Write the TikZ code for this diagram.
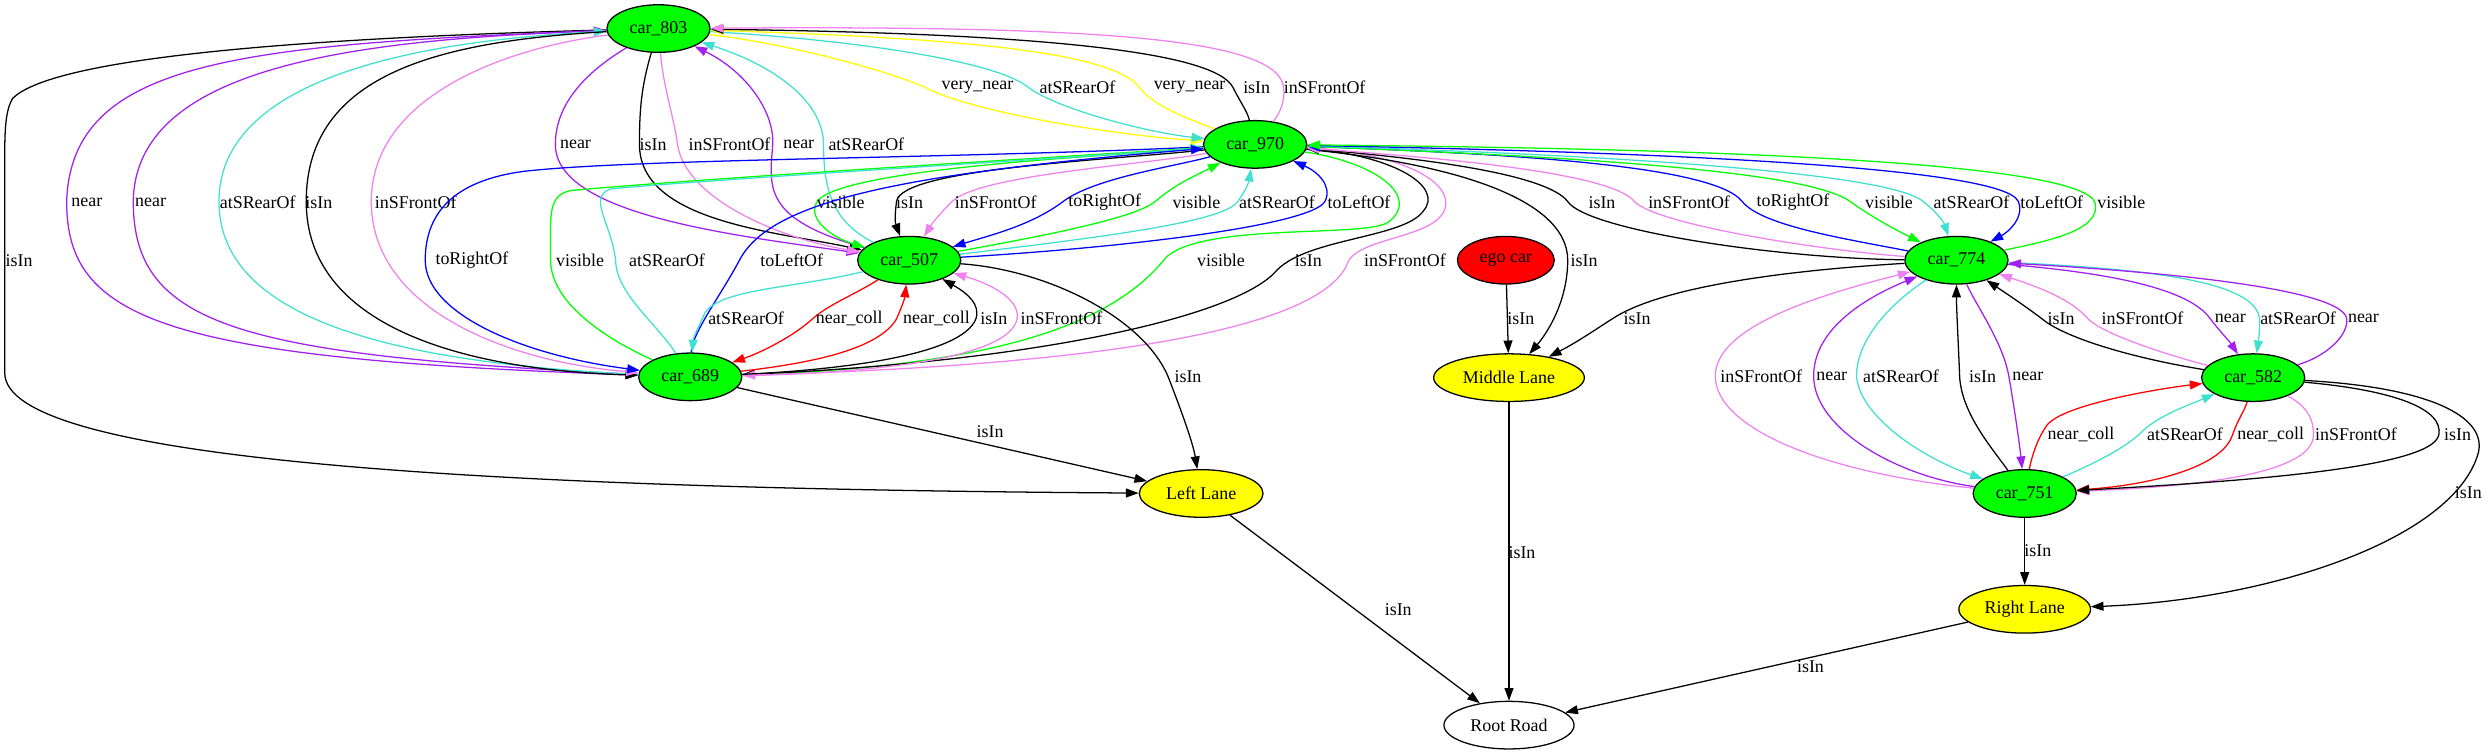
\documentclass[tikz,border=0pt]{standalone}
\usepackage{fontspec}
\setmainfont{Liberation Serif}
\usetikzlibrary{shapes.geometric, arrows.meta}

\definecolor{carc}{HTML}{00FF00}
\definecolor{egoc}{HTML}{FF0000}
\definecolor{lanec}{HTML}{FFFF00}
\definecolor{nearc}{HTML}{A020F0}
\definecolor{frontc}{HTML}{EE82EE}
\definecolor{rearc}{HTML}{40E0D0}
\definecolor{sidec}{HTML}{0000FF}
\definecolor{visc}{HTML}{00FF00}
\definecolor{collc}{HTML}{FF0000}
\definecolor{vnearc}{HTML}{FFFF00}

\begin{document}
\begin{tikzpicture}[
    x=1pt, y=-1pt,
    font=\fontsize{11.3}{13}\selectfont,
    line width=0.8pt,
    >={Triangle[length=8pt,width=5.6pt]},
    obj/.style={
        ellipse,
        draw=black,
        inner sep=0pt,
        minimum height=30pt
    },
    car/.style={obj, fill=carc, minimum width=65pt},
    lane/.style={obj, fill=lanec},
    lbl/.style={inner sep=0pt, text=black},
    isin/.style={draw=black},
    nearrel/.style={draw=nearc},
    front/.style={draw=frontc},
    rear/.style={draw=rearc},
    side/.style={draw=sidec},
    vis/.style={draw=visc},
    coll/.style={draw=collc},
    vnear/.style={draw=vnearc}
]
    \useasboundingbox (0,0) rectangle (1568,476);

    % Objects
    \node[car] (car803) at (415,18) {car\_803};
    \node[car] (car970) at (791,91) {car\_970};
    \node[car] (car507) at (573,164) {car\_507};
    \node[obj, fill=egoc, minimum width=61pt] (ego) at (949,164) {ego car};
    \node[car] (car774) at (1233,164) {car\_774};
    \node[car] (car689) at (435,237.5) {car\_689};
    \node[lane, minimum width=95pt] (MiddleLane) at (951,238) {Middle Lane};
    \node[car] (car582) at (1420,238) {car\_582};
    \node[lane, minimum width=78pt] (LeftLane) at (757,311) {Left Lane};
    \node[car] (car751) at (1276,311) {car\_751};
    \node[lane, minimum width=83pt] (RightLane) at (1276,384) {Right Lane};
    \node[obj, fill=white, minimum width=82pt] (RootRoad) at (951,457) {Root Road};

    % car_803 and car_689 (left bundle)
    \draw[isin,->] (car803) .. controls (150,25) and (30,40) .. (8,62) .. controls (3,70) and (3,85) .. (3,100) -- (3,235) .. controls (3,290) and (300,308) .. (LeftLane) node[lbl] at (12,164) {isIn};
    \draw[nearrel,->] (car803) .. controls (150,28) and (45,38) .. (42,127) .. controls (42,200) and (100,226) .. (car689) node[lbl] at (54.7,127.5) {near};
    \draw[nearrel,<-] (car803) .. controls (230,25) and (85,40) .. (84,127) .. controls (84,205) and (150,224) .. (car689) node[lbl] at (94.9,127.5) {near};
    \draw[rear,<-] (car803) .. controls (260,26) and (138,50) .. (138,127) .. controls (138,195) and (230,228) .. (car689) node[lbl] at (162.4,127.5) {atSRearOf};
    \draw[isin,->] (car803) .. controls (280,26) and (193,45) .. (193,127) .. controls (193,205) and (290,233) .. (car689) node[lbl] at (201,127.5) {isIn};
    \draw[front,->] (car803) .. controls (320,30) and (234,60) .. (234,127) .. controls (234,195) and (320,228) .. (car689) node[lbl] at (262,127.5) {inSFrontOf};

    % car_803 and car_507
    \draw[nearrel,->] (car803) .. controls (370,45) and (350,65) .. (350,91) .. controls (350,135) and (460,148) .. (car507) node[lbl] at (362.7,91) {near};
    \draw[isin,->] (car803) .. controls (404,55) and (403,70) .. (403,91) .. controls (403,140) and (490,146) .. (car507) node[lbl] at (411.6,91) {isIn};
    \draw[front,->] (car803) .. controls (418,55) and (425,75) .. (427,91) .. controls (432,125) and (490,150) .. (car507) node[lbl] at (459.8,91) {inSFrontOf};
    \draw[nearrel,<-] (car803) .. controls (470,45) and (488,70) .. (487,91) .. controls (485,118) and (480,138) .. (car507) node[lbl] at (503.4,91) {near};
    \draw[rear,<-] (car803) .. controls (490,42) and (519,65) .. (519,91) .. controls (519,120) and (525,140) .. (car507) node[lbl] at (546,91) {atSRearOf};

    % car_803 and car_970
    \draw[vnear,->] (car803) .. controls (500,28) and (560,45) .. (583,55) .. controls (610,70) and (700,85) .. (car970) node[lbl] at (616,55) {very\_near};
    \draw[rear,->] (car803) .. controls (550,26) and (630,40) .. (648,55) .. controls (665,68) and (720,83) .. (car970) node[lbl] at (679,55) {atSRearOf};
    \draw[vnear,<-] (car803) .. controls (600,24) and (700,32) .. (718,55) .. controls (728,68) and (752,76) .. (car970) node[lbl] at (749.7,55) {very\_near};
    \draw[isin,<-] (car803) .. controls (650,21) and (765,32) .. (777,55) .. controls (782,65) and (786,70) .. (car970) node[lbl] at (792,55) {isIn};
    \draw[front,<-] (car803) .. controls (700,16) and (805,25) .. (809,55) .. controls (810,65) and (806,72) .. (car970) node[lbl] at (834.8,55) {inSFrontOf};

    % car_970 and car_507
    \draw[vis,->] (car970) .. controls (700,98) and (530,106) .. (515,127) .. controls (508,138) and (525,150) .. (car507) node[lbl] at (529.8,127.5) {visible};
    \draw[isin,->] (car970) .. controls (700,101) and (568,106) .. (565,127) .. controls (564,135) and (564,140) .. (car507) node[lbl] at (573.2,127.5) {isIn};
    \draw[front,->] (car970) .. controls (720,104) and (618,110) .. (600,127) .. controls (592,135) and (588,140) .. (car507) node[lbl] at (627.5,127.5) {inSFrontOf};
    \draw[side,->] (car970) .. controls (740,105) and (690,112) .. (670,127) .. controls (650,142) and (625,148) .. (car507) node[lbl] at (696.2,127.5) {toRightOf};
    \draw[vis,->] (car507) .. controls (650,150) and (715,138) .. (728,127) .. controls (742,115) and (755,110) .. (car970) node[lbl] at (754,127.5) {visible};
    \draw[rear,->] (car507) .. controls (690,150) and (772,140) .. (780,127) .. controls (785,120) and (787,115) .. (car970) node[lbl] at (804.8,127.5) {atSRearOf};
    \draw[side,->] (car507) .. controls (710,156) and (826,142) .. (835,127) .. controls (840,117) and (830,108) .. (car970) node[lbl] at (856.5,127.5) {toLeftOf};

    % car_970 and car_689
    \draw[side,->] (car970) .. controls (600,100) and (400,100) .. (330,108) .. controls (285,114) and (268,135) .. (268,164) .. controls (268,198) and (330,224) .. (car689) node[lbl] at (297.4,164) {toRightOf};
    \draw[vis,->] (car689) .. controls (385,215) and (347,192) .. (347,164) .. controls (347,135) and (345,123) .. (360,120) .. controls (450,112) and (650,100) .. (car970) node[lbl] at (365.6,164) {visible};
    \draw[rear,->] (car689) .. controls (415,205) and (388,185) .. (388,164) .. controls (385,140) and (370,124) .. (385,119) .. controls (450,113) and (650,101) .. (car970) node[lbl] at (420.3,164) {atSRearOf};
    \draw[side,->] (car689) .. controls (436,210) and (455,185) .. (466,164) .. controls (485,128) and (560,110) .. (car970) node[lbl] at (499,164) {toLeftOf};
    \draw[vis,->] (car970) .. controls (870,103) and (895,125) .. (875,140) .. controls (860,150) and (760,140) .. (735,162) .. controls (705,200) and (640,230) .. (car689) node[lbl] at (769.5,164) {visible};
    \draw[isin,->] (car970) .. controls (880,98) and (910,118) .. (897,133) .. controls (885,150) and (825,150) .. (805,170) .. controls (780,200) and (650,228) .. (car689) node[lbl] at (824.6,164) {isIn};
    \draw[front,->] (car970) .. controls (890,97) and (920,118) .. (909,135) .. controls (898,150) and (860,150) .. (850,164) .. controls (840,195) and (760,228) .. (car689) node[lbl] at (885.4,164) {inSFrontOf};

    % car_970 and car_774
    \draw[isin,->] (car970) .. controls (915,103) and (988,125) .. (988,164) .. controls (988,190) and (975,210) .. (MiddleLane) node[lbl] at (998.3,164) {isIn};
    \draw[isin,<-] (car970) .. controls (900,100) and (975,110) .. (988,127) .. controls (1000,145) and (1120,163) .. (car774) node[lbl] at (1009.6,127.5) {isIn};
    \draw[front,<-] (car970) .. controls (900,99) and (1015,108) .. (1030,127) .. controls (1045,142) and (1150,158) .. (car774) node[lbl] at (1064.5,127.5) {inSFrontOf};
    \draw[side,<-] (car970) .. controls (950,97) and (1080,104) .. (1098,127) .. controls (1110,142) and (1160,150) .. (car774) node[lbl] at (1130,127.5) {toRightOf};
    \draw[vis,->] (car970) .. controls (1000,99) and (1140,108) .. (1166,127) .. controls (1180,137) and (1195,145) .. (car774) node[lbl] at (1190.5,127.5) {visible};
    \draw[rear,->] (car970) .. controls (1000,97) and (1190,108) .. (1212,127) .. controls (1220,133) and (1225,140) .. (car774) node[lbl] at (1242.5,127.5) {atSRearOf};
    \draw[side,->] (car970) .. controls (1000,95) and (1262,103) .. (1272,127) .. controls (1276,137) and (1266,146) .. (car774) node[lbl] at (1293.1,127.5) {toLeftOf};
    \draw[vis,<-] (car970) .. controls (1000,93) and (1305,98) .. (1320,127) .. controls (1326,145) and (1290,152) .. (car774) node[lbl] at (1336.9,127.5) {visible};

    % Middle Lane
    \draw[isin,->] (car774) .. controls (1100,172) and (1040,185) .. (1016,201) .. controls (1005,208) and (995,215) .. (MiddleLane) node[lbl] at (1031.7,200.7) {isIn};
    \draw[isin,->] (ego) -- (MiddleLane) node[lbl] at (958.5,200.7) {isIn};

    % car_507 and car_689
    \draw[isin,->] (car507) .. controls (660,170) and (720,200) .. (736,237) .. controls (745,260) and (752,280) .. (LeftLane) node[lbl] at (748.7,237.4) {isIn};
    \draw[isin,->] (car689) -- (LeftLane) node[lbl] at (624,272) {isIn};
    \draw[rear,->] (car507) .. controls (500,182) and (448,182) .. (443,200) .. controls (440,207) and (437,212) .. (car689) node[lbl] at (470.2,200.6) {atSRearOf};
    \draw[coll,->] (car507) .. controls (538,186) and (522,192) .. (512,201) .. controls (500,212) and (480,222) .. (car689) node[lbl] at (535.2,200.6) {near\_coll};
    \draw[coll,->] (car689) .. controls (520,228) and (555,218) .. (565,201) .. controls (568,194) and (570,189) .. (car507) node[lbl] at (590.2,200.6) {near\_coll};
    \draw[isin,->] (car689) .. controls (530,233) and (606,224) .. (615,201) .. controls (618,192) and (610,185) .. (car507) node[lbl] at (626.4,200.6) {isIn};
    \draw[front,->] (car689) .. controls (550,235) and (636,226) .. (641,201) .. controls (643,190) and (628,180) .. (car507) node[lbl] at (669,200.6) {inSFrontOf};

    % car_774 and car_582
    \draw[isin,->] (car582) .. controls (1340,225) and (1300,212) .. (1287,201) .. controls (1275,192) and (1266,186) .. (car774) node[lbl] at (1298.9,200.6) {isIn};
    \draw[front,->] (car582) .. controls (1360,222) and (1325,210) .. (1316,201) .. controls (1305,188) and (1282,180) .. (car774) node[lbl] at (1350.2,200.6) {inSFrontOf};
    \draw[nearrel,->] (car774) .. controls (1330,172) and (1380,182) .. (1393,201) .. controls (1400,210) and (1405,215) .. (car582) node[lbl] at (1405.6,200.6) {near};
    \draw[rear,->] (car774) .. controls (1370,170) and (1422,180) .. (1424,201) .. controls (1424,206) and (1424,210) .. (car582) node[lbl] at (1448.3,200.6) {atSRearOf};
    \draw[nearrel,->] (car582) .. controls (1465,225) and (1480,212) .. (1479,201) .. controls (1476,180) and (1340,170) .. (car774) node[lbl] at (1489.5,200.6) {near};

    % car_774 and car_751
    \draw[front,->] (car751) .. controls (1150,298) and (1081,270) .. (1081,237) .. controls (1081,205) and (1150,185) .. (car774) node[lbl] at (1110,237.4) {inSFrontOf};
    \draw[nearrel,->] (car751) .. controls (1195,300) and (1143,270) .. (1143,237) .. controls (1143,210) and (1170,190) .. (car774) node[lbl] at (1154.4,237.4) {near};
    \draw[rear,->] (car774) .. controls (1190,192) and (1170,215) .. (1170,237) .. controls (1172,262) and (1210,288) .. (car751) node[lbl] at (1198,237.4) {atSRearOf};
    \draw[isin,->] (car751) .. controls (1255,282) and (1236,260) .. (1235,237) .. controls (1234,212) and (1233,195) .. (car774) node[lbl] at (1249.5,237.4) {isIn};
    \draw[nearrel,->] (car774) .. controls (1245,192) and (1262,215) .. (1266,237) .. controls (1270,260) and (1273,282) .. (car751) node[lbl] at (1278,237.4) {near};

    % car_582 and car_751
    \draw[coll,->] (car751) .. controls (1280,290) and (1283,278) .. (1290,268) .. controls (1300,255) and (1360,245) .. (car582) node[lbl] at (1311.5,273.7) {near\_coll};
    \draw[rear,->] (car751) .. controls (1320,292) and (1340,282) .. (1350,272) .. controls (1360,262) and (1380,255) .. (car582) node[lbl] at (1377,273.7) {atSRearOf};
    \draw[coll,->] (car582) .. controls (1415,258) and (1410,265) .. (1407,274) .. controls (1400,296) and (1350,306) .. (car751) node[lbl] at (1431,273.7) {near\_coll};
    \draw[front,->] (car582) .. controls (1452,255) and (1458,262) .. (1458,274) .. controls (1458,296) and (1400,306) .. (car751) node[lbl] at (1484.8,273.7) {inSFrontOf};
    \draw[isin,->] (car582) .. controls (1510,246) and (1540,258) .. (1537,274) .. controls (1533,296) and (1400,304) .. (car751) node[lbl] at (1548.8,273.7) {isIn};
    \draw[isin,->] (car582) .. controls (1530,244) and (1567,262) .. (1562,285) .. controls (1547,340) and (1430,378) .. (RightLane) node[lbl] at (1555.6,310.5) {isIn};

    % Lanes and road
    \draw[isin,->] (car751) -- (RightLane) node[lbl] at (1284.3,347) {isIn};
    \draw[isin,->] (MiddleLane) -- (RootRoad) node[lbl] at (959.2,348) {isIn};
    \draw[isin,->] (LeftLane) -- (RootRoad) node[lbl] at (881.2,384.5) {isIn};
    \draw[isin,->] (RightLane) -- (RootRoad) node[lbl] at (1141,420.2) {isIn};

\end{tikzpicture}
\end{document}
